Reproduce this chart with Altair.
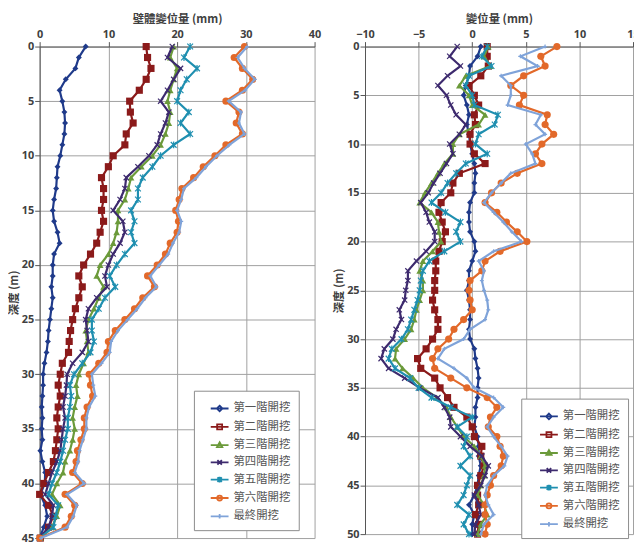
import altair as alt
import pandas as pd

# ---------------- data ----------------
names = ["第一階開挖", "第二階開挖", "第三階開挖", "第四階開挖", "第五階開挖", "第六階開挖", "最終開挖"]
colors = ["#1f3a8a", "#8b1a1a", "#6b9a3a", "#3d2a6e", "#1f8fb0", "#e2692a", "#7fa3d9"]

left_depth = list(range(0, 46))
left_s1 = [6.7, 5.7, 5.2, 3.8, 2.9, 3.3, 3.6, 3.7, 3.6, 3.3, 3.0, 2.6, 2.5, 2.4, 2.1, 1.9, 2.1, 2.6, 2.9, 2.1,
           1.9, 1.9, 1.7, 1.9, 1.7, 1.5, 1.3, 1.2, 1.0, 0.7, 0.5, 0.5, 0.4, 0.3, 0.4, 0.3, 0.4, 0.1, 0.4, 0.8,
           0.75, 0.1, 0.8, 1.1, 0.6, 0.0]
left_s2 = [15.5, 15.7, 16.2, 15.5, 14.5, 13.1, 13.2, 13.6, 12.6, 12.4, 10.7, 10.0, 9.0, 9.3, 9.3, 9.0, 9.3, 8.8, 8.3, 7.4,
           6.4, 5.7, 6.2, 5.7, 5.2, 4.8, 4.5, 4.3, 4.2, 3.3, 3.0, 2.7, 3.0, 2.7, 2.5, 2.7, 2.5, 2.3, 2.0, 1.3,
           0.6, 0.0, 1.3, 2.0, 1.3, 0.1]
left_s3 = [19.5, 19.0, 20.0, 19.5, 19.0, 18.6, 19.0, 18.8, 18.3, 17.6, 16.4, 14.8, 13.3, 12.9, 12.4, 11.4, 11.4, 11.2, 10.7, 10.0,
           8.8, 8.3, 9.3, 8.6, 7.9, 7.1, 6.7, 6.9, 7.1, 6.4, 5.7, 5.3, 5.5, 5.1, 4.8, 5.1, 4.8, 4.4, 3.7, 3.4,
           2.5, 1.8, 3.0, 2.5, 1.8, 0.1]
left_s4 = [19.3, 18.6, 20.5, 19.5, 18.6, 17.6, 18.8, 18.3, 17.6, 17.1, 15.9, 14.3, 12.6, 12.4, 11.7, 10.7, 12.1, 12.4, 11.7, 10.7,
           10.0, 9.5, 9.8, 8.3, 7.1, 6.7, 6.9, 7.1, 6.2, 4.8, 4.0, 3.9, 3.7, 3.4, 3.7, 3.4, 3.2, 3.0, 2.5, 1.8,
           1.3, 0.8, 2.0, 1.8, 1.3, 0.0]
left_s5 = [21.9, 21.0, 22.9, 21.4, 20.5, 20.0, 21.7, 20.5, 21.9, 19.5, 17.6, 16.4, 15.0, 14.3, 14.3, 13.3, 13.8, 13.3, 13.8, 12.4,
           11.2, 10.2, 11.0, 9.5, 8.6, 7.6, 7.6, 7.9, 7.4, 6.2, 5.0, 4.4, 4.6, 4.4, 4.1, 4.1, 3.7, 3.4, 3.0, 2.5,
           1.8, 1.3, 2.7, 2.3, 2.0, 0.0]
left_s6 = [29.8, 28.3, 29.5, 31.0, 29.5, 27.1, 29.0, 28.6, 29.5, 27.1, 25.5, 23.8, 22.4, 20.7, 20.3, 19.8, 20.2, 20.0, 19.0, 18.3,
           17.1, 15.7, 16.7, 15.0, 13.8, 12.4, 11.0, 10.0, 9.8, 8.6, 7.2, 7.4, 7.7, 6.9, 6.5, 6.5, 6.0, 5.5, 5.3, 4.8,
           6.2, 3.7, 5.1, 4.6, 3.7, 0.0]
left_s7 = [30.2, 28.8, 29.8, 31.3, 29.9, 27.5, 29.3, 29.0, 29.8, 27.6, 25.8, 24.2, 22.8, 21.0, 20.6, 20.0, 20.6, 20.3, 19.4, 18.7,
           17.4, 16.1, 17.0, 15.4, 14.2, 12.8, 11.4, 10.4, 10.2, 9.0, 7.6, 7.8, 8.1, 7.2, 6.8, 6.8, 6.3, 5.8, 5.6, 5.1,
           6.5, 4.0, 5.4, 4.9, 4.0, 0.2]

right_depth = list(range(0, 51))
right_s1 = [0.8, 0.5, -0.2, -0.3, -0.6, -0.8, -0.5, -0.3, -0.5, -0.3, -0.2, 0.0, 0.2, 0.3, 0.2, 0.2, -0.2, -0.3, -0.3, -0.2,
            0.2, 0.3, 0.0, -0.3, -0.3, -0.5, -0.3, -0.2, -0.2, -0.3, -0.2, 0.2, 0.3, 0.5, 0.6, 0.5, 0.5, 0.3, 0.3, 0.2,
            0.5, 0.6, 0.6, 0.8, 0.6, 0.5, 0.2, -0.3, 0.2, 0.0, 0.0]
right_s2 = [1.4, 1.4, 1.5, 0.8, -0.3, 0.2, 0.6, 0.2, 0.3, -0.2, -0.2, 0.2, 1.2, -1.2, -1.8, -2.0, -2.9, -3.1, -2.8, -2.5,
            -2.8, -3.1, -3.4, -3.4, -3.5, -3.5, -3.7, -3.5, -3.2, -3.2, -3.7, -4.3, -5.1, -4.8, -3.5, -3.0, -2.3, -1.7, -0.5, 0.0,
            0.2, 0.9, 0.8, 1.1, 0.8, 0.5, 0.5, 0.6, 0.3, 0.6, 0.5]
right_s3 = [1.5, 1.1, 1.7, -0.6, -1.2, -0.3, 0.0, 1.2, 0.6, -1.2, -1.8, -1.8, -2.6, -3.2, -3.8, -4.4, -4.9, -3.8, -3.2, -3.1,
            -2.9, -3.7, -4.6, -4.9, -4.6, -4.6, -4.9, -5.2, -5.4, -5.7, -6.3, -7.1, -7.2, -6.5, -5.5, -4.6, -3.3, -2.4, -2.0, -1.4,
            -0.8, 0.2, 0.8, 1.2, 1.1, 0.8, 0.5, 1.1, 1.4, 0.8, 0.5]
right_s4 = [-1.4, -2.1, -1.1, -2.3, -3.2, -2.4, -2.0, -1.5, -0.6, -1.2, -2.1, -1.8, -2.4, -3.0, -3.6, -4.1, -4.8, -4.3, -4.0, -3.5,
            -3.5, -4.3, -5.2, -6.0, -6.0, -6.2, -6.3, -6.8, -6.6, -7.1, -7.4, -8.2, -8.5, -7.8, -6.3, -4.9, -3.2, -2.6, -2.1, -2.0,
            -1.1, -0.2, 0.9, 1.5, 1.2, 0.8, 0.2, 0.6, 0.8, 0.3, 0.2]
right_s5 = [1.4, 0.9, 1.8, -0.3, -0.6, 0.0, 0.2, 2.4, 2.1, 0.6, 0.3, 1.4, -0.6, -1.5, -2.3, -2.9, -3.8, -2.5, -1.1, -1.5,
            -1.1, -2.6, -4.0, -4.6, -4.8, -4.9, -5.1, -5.4, -5.7, -6.0, -6.6, -7.5, -7.8, -7.2, -5.8, -5.0, -3.8, -2.0, 0.0, -1.4,
            -0.5, -0.8, -0.2, -1.1, -0.2, -0.5, -0.8, -1.4, -0.3, -0.8, -0.3]
right_s6 = [7.9, 6.4, 6.8, 4.8, 3.6, 4.8, 4.4, 7.0, 6.8, 7.6, 6.5, 5.9, 6.5, 4.2, 2.7, 1.8, 1.2, 2.3, 3.2, 4.2,
            5.1, 2.6, 1.2, 0.9, -0.2, -0.3, -0.2, 0.0, -0.8, -1.7, -2.2, -3.2, -3.7, -3.5, -2.0, -0.5, 1.4, 2.3, 1.7, 1.5,
            2.3, 2.6, 2.9, 2.7, 2.0, 1.7, 1.4, 1.2, 1.2, 1.4, 1.2]
right_s7 = [6.8, 4.5, 6.1, 2.7, 3.6, 3.6, 3.3, 6.4, 5.9, 6.8, 5.0, 5.6, 5.9, 3.6, 2.7, 1.8, 1.1, 2.0, 2.9, 3.7,
            4.6, 2.0, 0.6, 1.1, 0.9, 1.1, 1.4, 1.5, 1.2, -0.2, -0.8, -2.6, -3.2, -1.7, -0.5, 0.2, 2.0, 2.9, 2.0, 1.4,
            2.0, 2.7, 3.3, 3.0, 2.0, 1.4, 1.2, 1.5, 2.0, 1.1, 0.8]

left_series = [left_s1, left_s2, left_s3, left_s4, left_s5, left_s6, left_s7]
right_series = [right_s1, right_s2, right_s3, right_s4, right_s5, right_s6, right_s7]

# ---------------- styles ----------------
X_PATH = "M-1,-1L1,1M-1,1L1,-1"
ASTER_PATH = "M-1,-1L1,1M-1,1L1,-1M0,-1.2L0,1.2"
PLUS_PATH = "M-1,0L1,0M0,-1L0,1"
marker_shapes = ["diamond", "square", "triangle-up", X_PATH, ASTER_PATH, "circle", PLUS_PATH]
marker_sizes = [36, 52, 46, 28, 34, 52, 16]
marker_filled = [True, True, True, False, False, True, False]

legend_paths = [
    "M-1,0L1,0M0,-0.32L0.32,0L0,0.32L-0.32,0Z",
    "M-1,0L1,0M-0.28,-0.28L0.28,-0.28L0.28,0.28L-0.28,0.28Z",
    "M-1,0L1,0M0,-0.32L0.3,0.22L-0.3,0.22Z",
    "M-1,0L1,0M-0.25,-0.25L0.25,0.25M-0.25,0.25L0.25,-0.25",
    "M-1,0L1,0M-0.25,-0.25L0.25,0.25M-0.25,0.25L0.25,-0.25M0,-0.32L0,0.32",
    "M-1,0L1,0M0.28,0A0.28,0.28,0,1,1,-0.28,0A0.28,0.28,0,1,1,0.28,0",
    "M-1,0L1,0M0,-0.25L0,0.25",
]


def long_df(depths, series_lists):
    rows = []
    for name, vals in zip(names, series_lists):
        for d, v in zip(depths, vals):
            rows.append({"depth": d, "value": v, "series": name})
    return pd.DataFrame(rows)


def panel(df, xdom, xvals, ydom, yvals, w, h, xtitle, lx, ly, soff):
    x = alt.X("value:Q", scale=alt.Scale(domain=xdom, nice=False, zero=False),
              axis=alt.Axis(orient="top", values=xvals, title=xtitle, format="d", labelFlush=False))
    y = alt.Y("depth:Q", scale=alt.Scale(domain=ydom, reverse=True, nice=False, zero=False),
              axis=alt.Axis(values=yvals, title="深度 (m)", format="d", labelFlush=False))
    base = alt.Chart(df)
    layers = []
    for i, n in enumerate(names):
        pt = alt.OverlayMarkDef(shape=marker_shapes[i], size=marker_sizes[i], filled=marker_filled[i],
                                color=colors[i], strokeWidth=1.2, opacity=1)
        layers.append(
            base.transform_filter(alt.datum.series == n)
            .mark_line(color=colors[i], strokeWidth=2.2, point=pt)
            .encode(x=x, y=y, order=alt.Order("depth:Q"))
        )
    leg = alt.Legend(orient="none", legendX=lx, legendY=ly, title=None,
                     strokeColor="#8c8c8c", fillColor="white", padding=8,
                     symbolSize=324, symbolStrokeWidth=1.8, symbolOffset=soff,
                     labelFont="Noto Sans CJK TC", labelFontSize=11.5, labelColor="#555",
                     labelOffset=4, rowPadding=1.5)
    legend_layer = (
        base.transform_filter("datum.depth < -1000")
        .mark_point(filled=False, strokeWidth=1.8, size=324, opacity=1)
        .encode(
            x=x, y=y,
            color=alt.Color("series:N", scale=alt.Scale(domain=names, range=colors), legend=leg),
            shape=alt.Shape("series:N", scale=alt.Scale(domain=names, range=legend_paths), legend=leg),
        )
    )
    layers.append(legend_layer)
    return alt.layer(*layers).properties(width=w, height=h)


left_df = long_df(left_depth, left_series)
right_df = long_df(right_depth, right_series)

left = panel(left_df, [0, 40], [0, 10, 20, 30, 40], [0, 45], list(range(0, 46, 5)),
             278, 497, "壁體變位量 (mm)", 156, 348, 8)
right = panel(right_df, [-10, 15], [-10, -5, 0, 5, 10, 15], [0, 50], list(range(0, 51, 5)),
              271, 493, "變位量 (mm)", 158, 356, 10)

chart = (
    alt.hconcat(left, right, spacing=12)
    .resolve_scale(x="independent", y="independent", color="independent", shape="independent")
    .resolve_legend(color="independent", shape="independent")
    .properties(padding={"left": 0, "top": 3, "right": -6, "bottom": -4})
    .configure_view(stroke=None)
    .configure_axis(
        gridColor="#a0a0a0", gridWidth=1, domainColor="#555555", tickColor="#555555",
        tickSize=5, labelPadding=1, titlePadding=2, labelFlush=False,
        labelFont="Open Sans", labelFontSize=11, labelColor="#404040", labelFontWeight="bold",
        titleFont="Noto Sans CJK TC", titleFontSize=11.5, titleFontWeight="bold", titleColor="#404040",
    )
    .configure_axisTop(titlePadding=4, labelPadding=2)
)

chart.save("out.html", embed_options={"renderer": "svg", "actions": False})
